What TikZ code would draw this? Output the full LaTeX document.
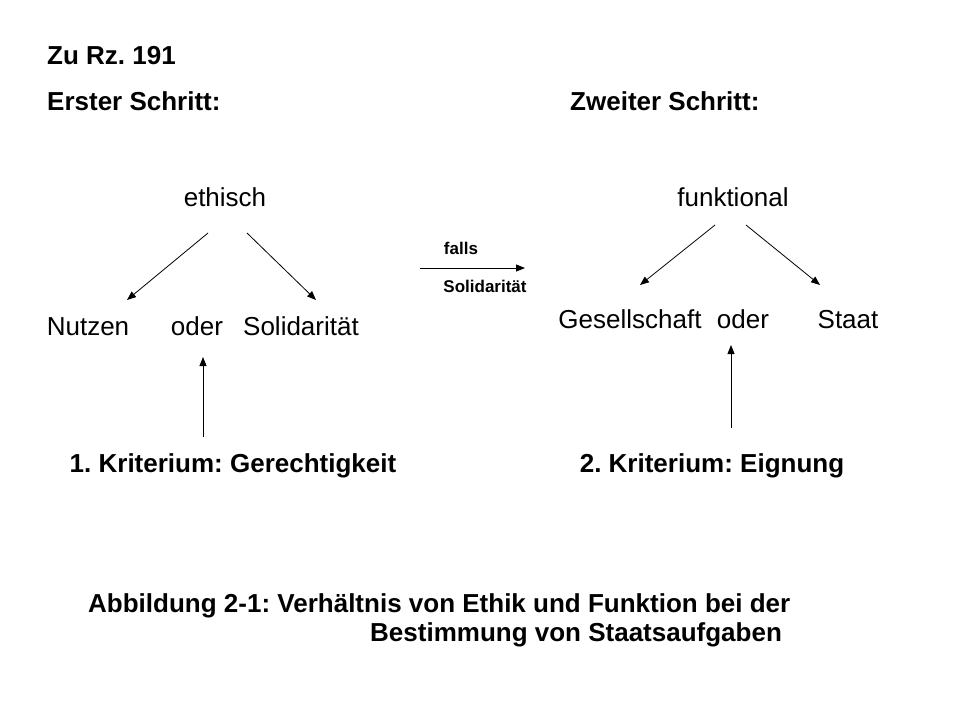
\documentclass[tikz,border=0pt]{standalone}
\usepackage{fontspec}
\setmainfont{Liberation Sans}
\usetikzlibrary{arrows.meta}
\begin{document}
\frenchspacing
\begin{tikzpicture}[x=1pt,y=-1pt,
  big/.style={font=\fontsize{26}{30}\selectfont,inner sep=0pt,text height=19pt,text depth=5pt},
  head/.style={font=\bfseries\fontsize{26}{30}\selectfont,inner sep=0pt,text height=19pt,text depth=5pt},
  small/.style={font=\bfseries\fontsize{17}{20}\selectfont,inner sep=0pt,text height=12pt,text depth=3pt},
  arr/.style={-{Triangle[length=9,width=7]},line width=0.8pt}]
\useasboundingbox (0,0) rectangle (960,720);
\node[head,anchor=west] (zu) at (47,57) {Zu Rz. 191};
\node[head,anchor=west] (s1) at (47,103) {Erster Schritt:};
\node[head,anchor=west] (s2) at (570,103) {Zweiter Schritt:};
\node[big] (eth) at (225,199) {ethisch};
\node[big] (fun) at (733,199) {funktional};
\node[big] (nut) at (88,328) {Nutzen};
\node[big] (od1) at (197,328) {oder};
\node[big] (sol) at (301,328) {Solidarität};
\node[big] (ges) at (630,321) {Gesellschaft};
\node[big] (od2) at (743,321) {oder};
\node[big] (sta) at (848,321) {Staat};
\node[small] (falls) at (461,250) {falls};
\node[small] (soli) at (485,288) {Solidarität};
\node[head] (k1) at (233,465) {1. Kriterium: Gerechtigkeit};
\node[head] (k2) at (712,465) {2. Kriterium: Eignung};
\node[head,anchor=west] (c1) at (88,605) {Abbildung 2-1: Verhältnis von Ethik und Funktion bei der};
\node[head,anchor=west] (c2) at (370,634) {Bestimmung von Staatsaufgaben};
\coordinate (a1) at (208,233); \coordinate (b1) at (127,300);
\coordinate (a2) at (247,233); \coordinate (b2) at (316,300);
\coordinate (a3) at (715,225); \coordinate (b3) at (640,285);
\coordinate (a4) at (746,225); \coordinate (b4) at (820,285);
\coordinate (m1) at (420,268); \coordinate (m2) at (525,268);
\coordinate (v1) at (203,437); \coordinate (w1) at (203,357);
\coordinate (v2) at (731,428); \coordinate (w2) at (731,345);
\draw[arr] (a1) -- (b1);
\draw[arr] (a2) -- (b2);
\draw[arr] (a3) -- (b3);
\draw[arr] (a4) -- (b4);
\draw[arr] (m1) -- (m2);
\draw[arr] (v1) -- (w1);
\draw[arr] (v2) -- (w2);
\end{tikzpicture}
\end{document}
